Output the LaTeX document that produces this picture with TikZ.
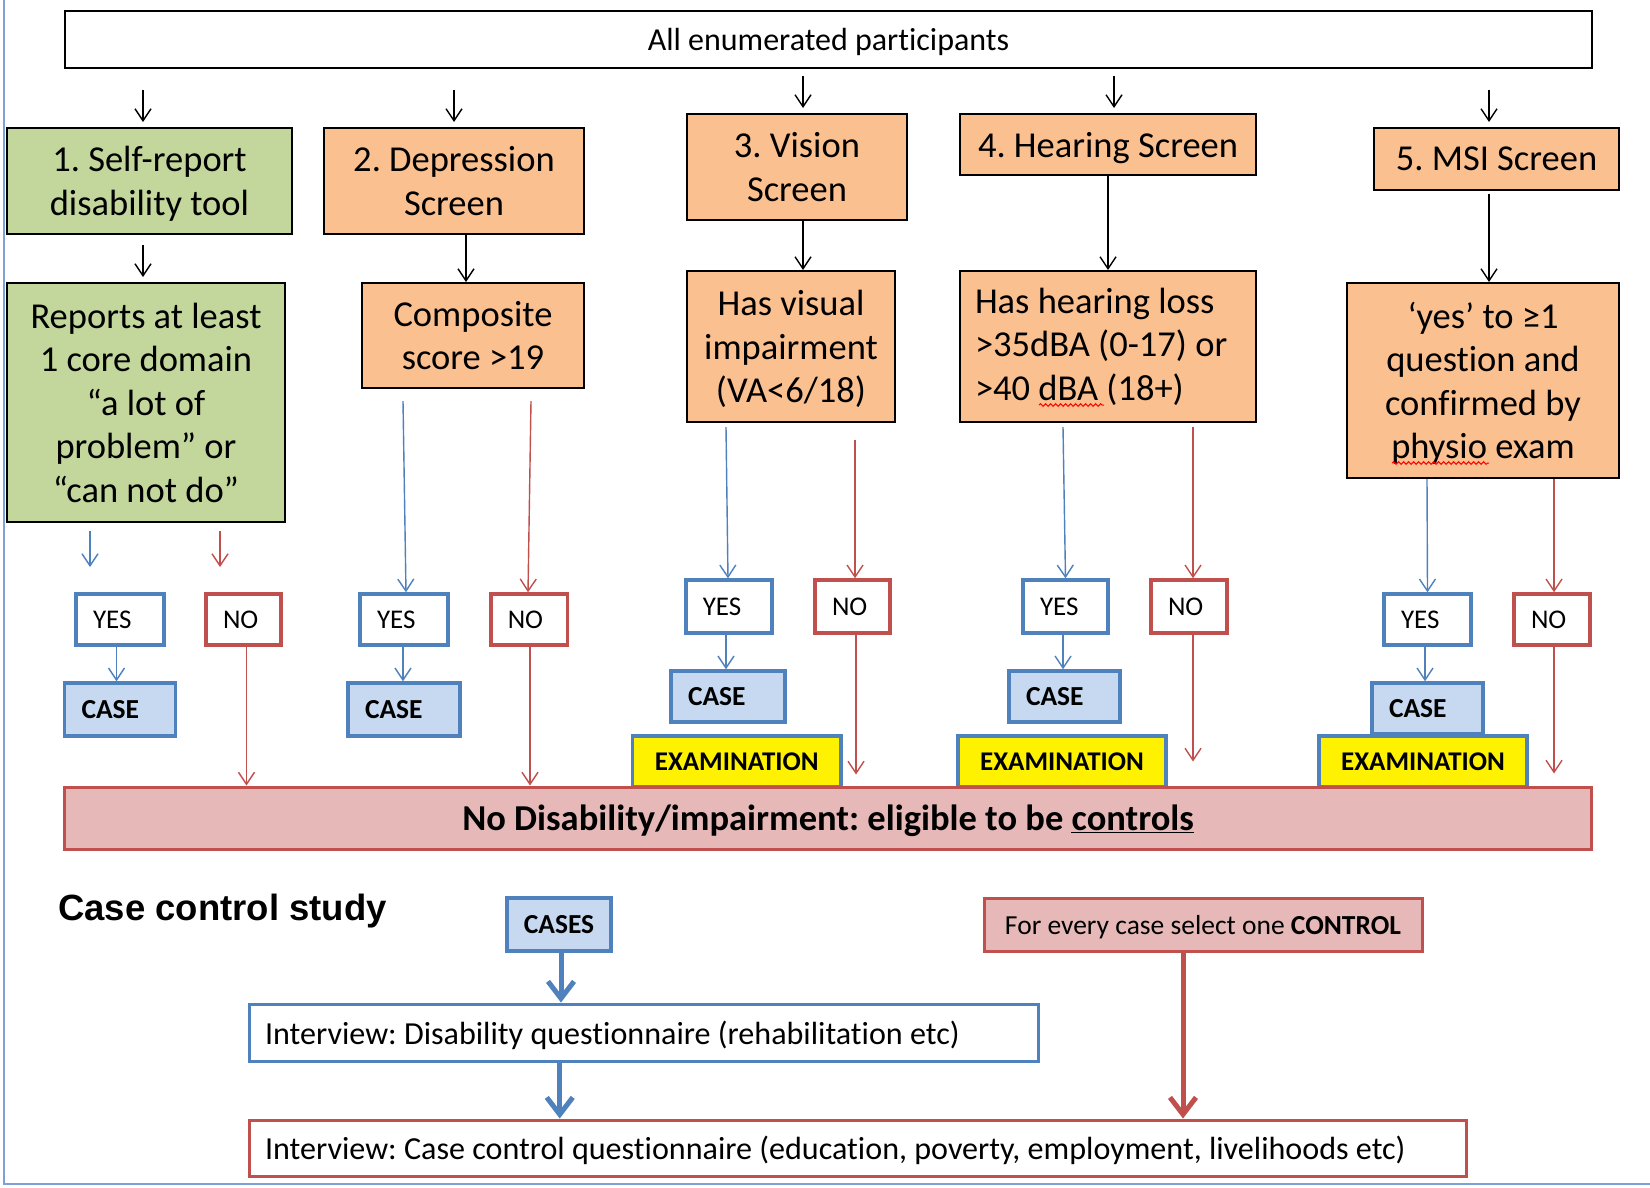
\documentclass[tikz,border=0pt]{standalone}
\usepackage{fontspec}
\setmainfont{Carlito}[Ligatures=NoCommon]
\newfontfamily\arialfont{Liberation Sans}
\usetikzlibrary{arrows.meta,decorations.pathmorphing}
\definecolor{ogreen}{HTML}{C3D69B}
\definecolor{oorange}{HTML}{FAC090}
\definecolor{oblue}{HTML}{4F81BD}
\definecolor{lblue}{HTML}{C6D9F1}
\definecolor{ored}{HTML}{C0504D}
\definecolor{lred}{HTML}{E6B9B8}
\definecolor{frameblue}{HTML}{7F9FD8}
\newcommand\natsp{\spaceskip=0pt\xspaceskip=0pt\relax}
\frenchspacing
\begin{document}
\frenchspacing
\begin{tikzpicture}[x=1pt,y=-1pt,
  bigbox/.style={draw=black, line width=2pt, inner sep=3pt, align=center, text depth=0pt, font=\frenchspacing\fontsize{36.5}{43.5}\selectfont},
  greenbox/.style={bigbox, fill=ogreen},
  orangebox/.style={bigbox, fill=oorange},
  smallbox/.style={line width=3.5pt, fill=white, inner xsep=17pt, inner ysep=0pt, align=left, text depth=0pt, yshift=-1pt, font=\fontsize{27}{32}\selectfont},
  yesbox/.style={smallbox, draw=oblue},
  nobox/.style={smallbox, draw=ored},
  casebox/.style={draw=oblue, line width=3.5pt, fill=lblue, inner xsep=17pt, inner ysep=0pt, align=left, text depth=0pt, font=\bfseries\fontsize{27.5}{32}\selectfont},
  exambox/.style={draw=oblue, line width=3.5pt, fill=yellow, inner sep=0pt, text depth=0pt, font=\bfseries\fontsize{27}{32}\selectfont},
  arr/.style={-{Straight Barb[length=12pt,width=16pt]}, line width=1.4pt},
  barr/.style={arr, draw=oblue},
  rarr/.style={arr, draw=ored},
  thickb/.style={-{Straight Barb[length=17pt,width=26pt]}, line width=5pt, draw=oblue},
  thickr/.style={-{Straight Barb[length=17pt,width=26pt]}, line width=5pt, draw=ored},
  wavy/.style={draw=red, line width=1pt, decorate, decoration={snake, amplitude=1.3pt, segment length=5pt}}
]
\useasboundingbox (0,0) rectangle (1650,1187);
\fill[white] (0,0) rectangle (1650,1187);
\draw[frameblue, line width=2pt] (4,0) -- (4,1184) -- (1650,1184);

% top
\node[bigbox, minimum width=1527, minimum height=57, font=\fontsize{32}{38}\selectfont] (top) at (828.5,39) {All enumerated participants};

% row 1
\node[greenbox, minimum width=285, minimum height=106] (b1) at (149.5,181) {1. Self-report\\disability tool};
\node[orangebox, minimum width=260, minimum height=106] (b2) at (454,181) {2. Depression\\Screen};
\node[orangebox, minimum width=220, minimum height=106] (b3) at (797,167) {3. Vision\\Screen};
\node[orangebox, minimum width=296, minimum height=61] (b4) at (1108,144.5) {4. Hearing Screen};
\node[orangebox, minimum width=245, minimum height=62] (b5) at (1496.5,159) {5. MSI Screen};

% row 2
\node[greenbox, minimum width=278.5, minimum height=239] (c1) at (146,402.5) {Reports at least\\1 core domain\\“a lot of\\problem” or\\“can not do”};
\node[orangebox, minimum width=222, minimum height=105] (c2) at (473,335.5) {Composite\\score >19};
\node[orangebox, minimum width=208, minimum height=151] (c3) at (791,346.5) {Has visual\\impairment\\(VA<6/18)};
\node[orangebox, text depth=, align=left, text width=266, inner xsep=15pt, inner ysep=0pt, minimum height=151] (c4) at (1108,346.5) {\natsp Has hearing loss\\>35dBA (0-17) or\\>40 dBA (18+)};
\node[orangebox, minimum width=271.5, minimum height=195] (c5) at (1483,380.5) {‘yes’ to ≥1\\question and\\confirmed by\\physio exam};

% spelling marks
\draw[wavy] (1039,405) -- (1104,405);
\draw[wavy] (1392,463) -- (1489,463);

% yes / no
\node[yesbox, text width=54, minimum height=51] (y1) at (120,618.5) {YES};
\node[nobox, text width=41, minimum height=51] (n1) at (243.5,618.5) {NO};
\node[yesbox, text width=54, minimum height=51] (y2) at (404,618.5) {YES};
\node[nobox, text width=42.5, minimum height=51] (n2) at (529,618.5) {NO};
\node[yesbox, text width=52.4, minimum height=53] (y3) at (729,605.5) {YES};
\node[nobox, text width=41, minimum height=53] (n3) at (852.5,605.5) {NO};
\node[yesbox, text width=51, minimum height=53] (y4) at (1065.5,605.5) {YES};
\node[nobox, text width=42, minimum height=53] (n4) at (1189,605.5) {NO};
\node[yesbox, text width=53, minimum height=51] (y5) at (1427.5,618.5) {YES};
\node[nobox, text width=42, minimum height=51] (n5) at (1552,618.5) {NO};

% case
\node[casebox, text width=77, minimum height=53] (k1) at (120,709.5) {CASE};
\node[casebox, text width=78, minimum height=53] (k2) at (404,709.5) {CASE};
\node[casebox, text width=80, minimum height=51] (k3) at (728,696.5) {CASE};
\node[casebox, text width=77, minimum height=51] (k4) at (1064.5,696.5) {CASE};
\node[casebox, text width=77, minimum height=51] (k5) at (1427.5,708.5) {CASE};

% examination
\node[exambox, minimum width=208.5, minimum height=51] (e3) at (736.75,761.5) {EXAMINATION};
\node[exambox, minimum width=208, minimum height=51] (e4) at (1062,761.5) {EXAMINATION};
\node[exambox, minimum width=208, minimum height=51] (e5) at (1423,761.5) {EXAMINATION};

% no disability
\node[draw=ored, line width=3pt, fill=lred, minimum width=1527.5, minimum height=62, text depth=0pt, font=\bfseries\fontsize{36.5}{42}\selectfont] (nd) at (828,818) {No Disability/impairment: eligible to be \underline{controls}};

% arrows top -> row 1
\coordinate (t1) at (143,90);  \draw[arr, shorten >=5pt] (t1) -- (t1 |- b1.north);
\coordinate (t2) at (454,90);  \draw[arr, shorten >=5pt] (t2) -- (t2 |- b2.north);
\coordinate (t3) at (803,76);  \draw[arr, shorten >=5pt] (t3) -- (t3 |- b3.north);
\coordinate (t4) at (1114,76); \draw[arr, shorten >=5pt] (t4) -- (t4 |- b4.north);
\coordinate (t5) at (1489,90); \draw[arr, shorten >=5pt] (t5) -- (t5 |- b5.north);

% row 1 -> row 2
\coordinate (u1) at (143,245); \draw[arr, shorten >=5pt] (u1) -- (u1 |- c1.north);
\draw[arr] ([xshift=12]b2.south) -- ([xshift=12]b2.south |- c2.north);
\draw[arr] ([xshift=6]b3.south) -- ([xshift=6]b3.south |- c3.north);
\draw[arr] (b4.south) -- (c4.north);
\coordinate (u5) at (1489,194); \draw[arr] (u5) -- (u5 |- c5.north);

% row 2 -> yes/no
\coordinate (p1) at (90,531);  \coordinate (q1) at (90,567);  \draw[barr] (p1) -- (q1);
\coordinate (p2) at (220,531); \coordinate (q2) at (220,567); \draw[rarr] (p2) -- (q2);
\coordinate (v2) at (403,401); \draw[barr] (v2) -- ([xshift=2]y2.north);
\coordinate (w2) at (531,401); \draw[rarr] (w2) -- ([xshift=-1]n2.north);
\coordinate (v3) at (726,427); \draw[barr] (v3) -- ([xshift=-1]y3.north);
\coordinate (w3) at (855,440); \draw[rarr] (w3) -- ([xshift=2.5]n3.north);
\coordinate (v4) at (1063,427); \draw[barr] (v4) -- (y4.north);
\coordinate (w4) at (1193,427); \draw[rarr] (w4) -- ([xshift=4]n4.north);
\draw[barr] ([xshift=-56]c5.south) -- (y5.north);
\draw[rarr] ([xshift=71]c5.south) -- ([xshift=2]n5.north);

% yes -> case
\draw[barr] ([xshift=-3.5]y1.south) -- ([xshift=-3.5]y1.south |- k1.north);
\draw[barr] ([xshift=-1]y2.south) -- ([xshift=-1]y2.south |- k2.north);
\draw[barr] ([xshift=-3]y3.south) -- ([xshift=-3]y3.south |- k3.north);
\draw[barr] ([xshift=-2.5]y4.south) -- ([xshift=-2.5]y4.south |- k4.north);
\draw[barr] ([xshift=-2.5]y5.south) -- ([xshift=-2.5]y5.south |- k5.north);

% no -> no disability
\draw[rarr] ([xshift=3]n1.south) -- ([xshift=3]n1.south |- nd.north);
\draw[rarr] ([xshift=1]n2.south) -- ([xshift=1]n2.south |- nd.north);
\draw[rarr, shorten >=11pt] ([xshift=3.5]n3.south) -- ([xshift=3.5]n3.south |- nd.north);
\draw[rarr, shorten >=24pt] ([xshift=4]n4.south) -- ([xshift=4]n4.south |- nd.north);
\draw[rarr, shorten >=12pt] ([xshift=2]n5.south) -- ([xshift=2]n5.south |- nd.north);

% case control study
\node[anchor=base west, inner sep=0pt, font=\arialfont\bfseries\fontsize{36.5}{43}\selectfont] (title) at (58,920) {Case control study};
\node[casebox, align=center, inner sep=0pt, minimum width=104, minimum height=53] (cases) at (559,924.5) {CASES};
\node[draw=ored, line width=3pt, fill=lred, minimum width=438, minimum height=53, inner sep=0pt, text depth=0pt, font=\fontsize{27.5}{32}\selectfont] (ctrl) at (1203,924.5) {For every case select one \textbf{CONTROL}};
\node[draw=oblue, line width=3pt, fill=white, text width=757.5, inner xsep=16, inner ysep=0pt, minimum height=57, align=left, text depth=0pt, font=\fontsize{32.1}{37}\selectfont] (int1) at (643.75,1032.5) {\natsp Interview: Disability questionnaire (rehabilitation etc)};
\node[draw=ored, line width=3pt, fill=white, text width=1185.7, inner xsep=16, inner ysep=0pt, minimum height=56, align=left, text depth=0pt, font=\fontsize{32.1}{37}\selectfont] (int2) at (857.85,1148) {\natsp Interview: Case control questionnaire (education, poverty, employment, livelihoods etc)};

\draw[thickb] ([xshift=2]cases.south) -- ([xshift=2]cases.south |- int1.north);
\draw[thickb] ([xshift=-84]int1.south) -- ([xshift=-84]int1.south |- int2.north);
\draw[thickr] ([xshift=-20]ctrl.south) -- ([xshift=-20]ctrl.south |- int2.north);
\end{tikzpicture}
\end{document}
